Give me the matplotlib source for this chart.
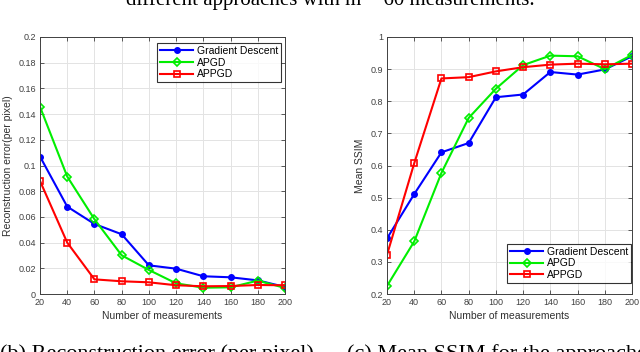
import matplotlib
matplotlib.use("Agg")
import matplotlib.pyplot as plt

measurements = [20, 40, 60, 80, 100, 120, 140, 160, 180, 200]

err_gd = [0.107, 0.068, 0.0545, 0.0465, 0.0223, 0.0197, 0.0138, 0.013, 0.0106, 0.0055]
err_apgd = [0.1457, 0.0914, 0.0582, 0.0301, 0.0187, 0.0083, 0.0049, 0.0052, 0.0104, 0.0047]
err_appgd = [0.088, 0.040, 0.0114, 0.0099, 0.0091, 0.0068, 0.006, 0.0062, 0.007, 0.0068]

ssim_gd = [0.373, 0.511, 0.641, 0.670, 0.8125, 0.821, 0.891, 0.883, 0.899, 0.940]
ssim_apgd = [0.225, 0.3635, 0.577, 0.748, 0.839, 0.9125, 0.942, 0.940, 0.900, 0.944]
ssim_appgd = [0.322, 0.607, 0.871, 0.875, 0.893, 0.906, 0.914, 0.917, 0.915, 0.917]

series_names = ["Gradient Descent", "APGD", "APPGD"]
x_ticks = [20, 40, 60, 80, 100, 120, 140, 160, 180, 200]
err_ticks = [0, 0.02, 0.04, 0.06, 0.08, 0.1, 0.12, 0.14, 0.16, 0.18, 0.2]
err_ticklabels = ["0", "0.02", "0.04", "0.06", "0.08", "0.1", "0.12", "0.14", "0.16", "0.18", "0.2"]
ssim_ticks = [0.2, 0.3, 0.4, 0.5, 0.6, 0.7, 0.8, 0.9, 1.0]
ssim_ticklabels = ["0.2", "0.3", "0.4", "0.5", "0.6", "0.7", "0.8", "0.9", "1"]

top_text = "different approaches with m = 60 measurements."
caption_b = "(b) Reconstruction error (per pixel)"
caption_c = "(c) Mean SSIM for the approaches with"

plt.rcParams['font.family'] = ['Liberation Sans', 'DejaVu Sans']

fig = plt.figure(figsize=(6.4, 3.52), dpi=100)
ax1 = fig.add_axes([40/640, 58/352, 245/640, 257/352])
ax2 = fig.add_axes([387/640, 58/352, 245/640, 257/352])

styles = [
    dict(color="#0000ff", marker="o", markersize=4, markerfacecolor="#0000ff"),
    dict(color="#00ee00", marker="D", markersize=4, markerfacecolor="none", markeredgewidth=1.2),
    dict(color="#ff0000", marker="s", markersize=4, markerfacecolor="none", markeredgewidth=1.2),
]

for ax, data in ((ax1, (err_gd, err_apgd, err_appgd)), (ax2, (ssim_gd, ssim_apgd, ssim_appgd))):
    for vals, name, st in zip(data, series_names, styles):
        ax.plot(measurements, vals, label=name, linewidth=1.5, **st)
    ax.set_xlim(20, 200)
    ax.set_xticks(x_ticks)
    ax.set_xticklabels([str(t) for t in x_ticks])
    ax.grid(True, color="#e3e3e3", linewidth=0.7)
    ax.set_axisbelow(True)
    ax.tick_params(direction="in", top=True, right=True, labelsize=6.5, colors="#404040",
                   length=3, width=0.6, pad=3)
    for sp in ax.spines.values():
        sp.set_color("#404040")
        sp.set_linewidth(0.7)
    ax.set_xlabel("Number of measurements", fontsize=7.5, color="#303030", labelpad=3)

ax1.set_ylim(0, 0.2)
ax1.set_yticks(err_ticks)
ax1.set_yticklabels(err_ticklabels)
ax1.set_ylabel("Reconstruction error(per pixel)", fontsize=7.5, color="#303030", labelpad=4)

ax2.set_ylim(0.2, 1.0)
ax2.set_yticks(ssim_ticks)
ax2.set_yticklabels(ssim_ticklabels)
ax2.set_ylabel("Mean SSIM", fontsize=7.5, color="#303030", labelpad=4)

leg_kw = dict(fontsize=7.5, frameon=True, fancybox=False, borderpad=0.3, labelspacing=0.15,
              handlelength=3.2, handletextpad=0.3, borderaxespad=0)
l1 = ax1.legend(loc="upper left", bbox_to_anchor=((157-40)/245, (294-43)/257), **leg_kw)
l2 = ax2.legend(loc="lower left", bbox_to_anchor=((507-387)/245, (294-283)/257), **leg_kw)
for l in (l1, l2):
    l.get_frame().set_edgecolor("black")
    l.get_frame().set_linewidth(0.8)

fig.text(126/640, 1 - 4.5/352, top_text, family="Liberation Serif", fontsize=15,
         ha="left", va="baseline", color="black")
fig.text(0.0, 1 - 359/352, caption_b, family="Liberation Serif", fontsize=16,
         ha="left", va="baseline", color="black")
fig.text(347/640, 1 - 359/352, caption_c, family="Liberation Serif", fontsize=16,
         ha="left", va="baseline", color="black")

fig.savefig("out.png", dpi=100)
